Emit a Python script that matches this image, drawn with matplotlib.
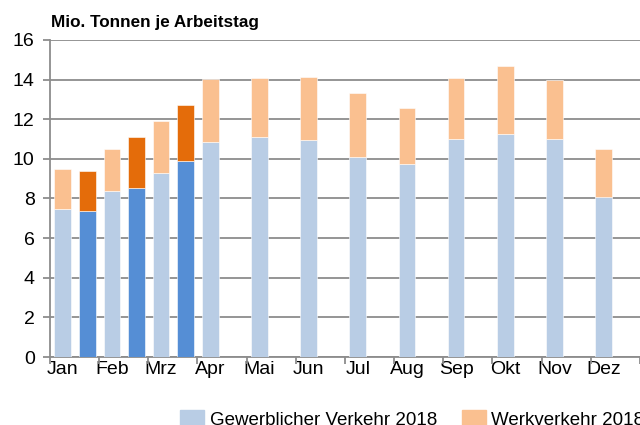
import matplotlib
matplotlib.use("Agg")
import matplotlib.pyplot as plt
import numpy as np
from matplotlib.patches import Patch

plt.rcParams['font.family'] = ['Liberation Sans', 'DejaVu Sans']

months = ["Jan", "Feb", "Mrz", "Apr", "Mai", "Jun", "Jul", "Aug", "Sep", "Okt", "Nov", "Dez"]
gew_2018 = [7.45, 8.36, 9.30, 10.87, 11.09, 10.94, 10.10, 9.76, 11.00, 11.27, 11.02, 8.08]
werk_2018 = [2.04, 2.16, 2.61, 3.16, 2.99, 3.21, 3.23, 2.79, 3.10, 3.42, 2.95, 2.44]
gew_2019 = [7.37, 8.51, 9.88]
werk_2019 = [2.00, 2.58, 2.82]

c_gew18 = "#B9CDE5"
c_werk18 = "#FAC090"
c_gew19 = "#558ED5"
c_werk19 = "#E46C0A"

fig = plt.figure(figsize=(6.4, 4.25), dpi=100)
ax = fig.add_axes([0.078, 0.16, 0.922, 0.746])

x = np.arange(len(months))
x19 = np.arange(len(gew_2019))
w = 0.34
off18 = -0.24
off19 = 0.26

ax.bar(x + off18, gew_2018, w, color=c_gew18, edgecolor="white", linewidth=0.4, zorder=3)
ax.bar(x + off18, werk_2018, w, bottom=gew_2018, color=c_werk18, edgecolor="white", linewidth=0.4, zorder=3)
ax.bar(x19 + off19, gew_2019, w, color=c_gew19, edgecolor="white", linewidth=0.4, zorder=3)
ax.bar(x19 + off19, werk_2019, w, bottom=gew_2019, color=c_werk19, edgecolor="white", linewidth=0.4, zorder=3)

ax.set_xlim(-0.5, len(months) - 0.5)
ax.set_ylim(0, 16)
ax.set_yticks(np.arange(0, 17, 2))
ax.yaxis.grid(True, color="#8c8c8c", linewidth=1.3, zorder=0)
ax.set_axisbelow(True)

ax.set_xticks(x + off18)
ax.set_xticklabels(months)
ax.set_xticks(np.arange(-0.5, len(months)), minor=True)
ax.tick_params(axis='x', which='major', length=0, labelsize=14, pad=3)
ax.tick_params(axis='x', which='minor', length=5, width=1.3, color="#8c8c8c")
ax.tick_params(axis='y', length=5, width=1.3, color="#8c8c8c", labelsize=14, pad=6)

for s in ["top", "right"]:
    ax.spines[s].set_visible(False)
for s in ["left", "bottom"]:
    ax.spines[s].set_color("#8c8c8c")
    ax.spines[s].set_linewidth(1.3)

fig.text(0.08, 0.948, "Mio. Tonnen je Arbeitstag", fontsize=12.3, fontweight="bold", va="center", ha="left")

handles = [Patch(color=c_gew18), Patch(color=c_werk18)]
labels = ["Gewerblicher Verkehr 2018", "Werkverkehr 2018"]
fig.legend(handles, labels, loc="upper left", bbox_to_anchor=(0.282, 0.035), ncol=2, frameon=False,
           fontsize=13.5, handlelength=1.25, handleheight=1.0, handletextpad=0.3, columnspacing=1.35,
           borderaxespad=0, borderpad=0)

fig.savefig("out.png", dpi=100)
